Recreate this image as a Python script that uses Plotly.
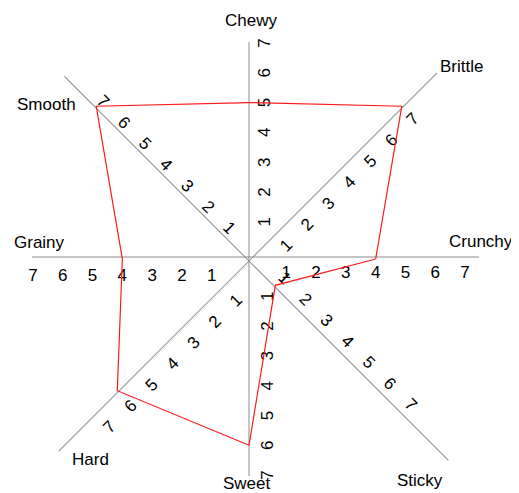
import math
import plotly.graph_objects as go

# ---------------- data ----------------
attributes = ["Crunchy", "Brittle", "Chewy", "Smooth", "Grainy", "Hard", "Sweet", "Sticky"]
scores = [4, 7, 5, 7, 4, 6, 6, 1]
tick_values = [1, 2, 3, 4, 5, 6, 7]
tick_labels = ["1", "2", "3", "4", "5", "6", "7"]

# ---------------- layout / style constants ----------------
PAGE_MARGIN = 8                     # default <body> margin of the html page
W, H = 519 - PAGE_MARGIN, 493 - PAGE_MARGIN
PX_PER_UNIT = 29.8
RADIAL_MIN = -0.25                  # small gap around the centre of the star
FONT = "Liberation Sans, Arial, Helvetica, sans-serif"
AXIS_COLOR = "#8c8c8c"
LINE_COLOR = "#ff1a1a"

# per-axis drawing: centre (window px), axis length (px), label side
AXIS_STYLE = {
    "Crunchy": dict(c=(249, 257), length=230, side="clockwise"),
    "Brittle": dict(c=(249, 261), length=266, side="clockwise"),
    "Chewy":   dict(c=(249, 259), length=217, side="clockwise"),
    "Smooth":  dict(c=(249, 261), length=261, side="clockwise"),
    "Grainy":  dict(c=(249, 257), length=217, side="counterclockwise"),
    "Hard":    dict(c=(249, 261), length=269, side="counterclockwise"),
    "Sweet":   dict(c=(249, 259), length=217, side="counterclockwise"),
    "Sticky":  dict(c=(249, 261), length=282, side="counterclockwise"),
}
# axis-name placement: angle offset (deg) from the axis and distance (px) from centre
NAME_STYLE = {
    "Crunchy": (4.3, 232.7), "Brittle": (-2.7, 286.7), "Chewy": (-0.5, 238.5),
    "Smooth": (7.6, 255.0), "Grainy": (-4.5, 210.6), "Hard": (6.7, 256.0),
    "Sweet": (-0.6, 224.5), "Sticky": (-7.4, 280.0),
}
MAIN_C = (249, 259)
MAIN_R = 230


def to_fig(p):
    return (p[0] - PAGE_MARGIN, p[1] - PAGE_MARGIN)


def sector_bbox(s0, s1):
    """Port of plotly.js computeSectorBBox."""
    arc = s1 - s0
    a0 = s0 % 360
    a1 = a0 + arc
    ax0, ay0 = math.cos(math.radians(a0)), math.sin(math.radians(a0))
    ax1, ay1 = math.cos(math.radians(a1)), math.sin(math.radians(a1))
    if (a0 <= 90 and a1 >= 90) or (a0 > 90 and a1 >= 450):
        y1 = 1
    elif ay0 <= 0 and ay1 <= 0:
        y1 = 0
    else:
        y1 = max(ay0, ay1)
    if (a0 <= 180 and a1 >= 180) or (a0 > 180 and a1 >= 540):
        x0 = -1
    elif ax0 >= 0 and ax1 >= 0:
        x0 = 0
    else:
        x0 = min(ax0, ax1)
    if (a0 <= 270 and a1 >= 270) or (a0 > 270 and a1 >= 630):
        y0 = -1
    elif ay0 >= 0 and ay1 >= 0:
        y0 = 0
    else:
        y0 = min(ay0, ay1)
    if a1 >= 360:
        x1 = 1
    elif ax0 <= 0 and ax1 <= 0:
        x1 = 0
    else:
        x1 = max(ax0, ax1)
    return x0, y0, x1, y1


def domain_for(centre, radius, sector):
    cx, cy = to_fig(centre)
    bx0, by0, bx1, by1 = sector_bbox(*sector)
    clamp = lambda v: min(1.0, max(0.0, v))
    x = [clamp((cx + radius * bx0) / W), clamp((cx + radius * bx1) / W)]
    y = [clamp(1 - (cy - radius * by0) / H), clamp(1 - (cy - radius * by1) / H)]
    return dict(x=x, y=y)


n = len(attributes)
angles = [i * 360.0 / n for i in range(n)]

fig = go.Figure()
layout_polars = {}

# one polar subplot per axis (narrow sector so each axis can have its own length)
for i, (name, theta) in enumerate(zip(attributes, angles)):
    st = AXIS_STYLE[name]
    key = "polar" if i == 0 else f"polar{i + 1}"
    sector = [theta - 0.5, theta + 0.5]
    layout_polars[key] = dict(
        domain=domain_for(st["c"], st["length"], sector),
        sector=sector,
        bgcolor="rgba(0,0,0,0)",
        angularaxis=dict(visible=False, rotation=0, direction="counterclockwise"),
        radialaxis=dict(
            range=[RADIAL_MIN, RADIAL_MIN + st["length"] / PX_PER_UNIT],
            angle=theta,
            side=st["side"],
            tickvals=tick_values,
            ticktext=tick_labels,
            showgrid=False,
            showline=True,
            linecolor=AXIS_COLOR,
            linewidth=1,
            ticks="",
            tickfont=dict(family=FONT, size=17, color="black"),
        ),
    )
    fig.add_trace(go.Scatterpolar(r=[], theta=[], subplot=key, mode="lines",
                                  showlegend=False, hoverinfo="skip"))

# main subplot: the profile polygon
main_key = f"polar{n + 1}"
layout_polars[main_key] = dict(
    domain=domain_for(MAIN_C, MAIN_R, [0, 360]),
    bgcolor="rgba(0,0,0,0)",
    angularaxis=dict(visible=False, rotation=0, direction="counterclockwise"),
    radialaxis=dict(visible=False, range=[RADIAL_MIN, RADIAL_MIN + MAIN_R / PX_PER_UNIT]),
)

fig.add_trace(go.Scatterpolar(
    r=scores + scores[:1],
    theta=angles + angles[:1],
    subplot=main_key,
    mode="lines",
    line=dict(color=LINE_COLOR, width=1.2),
    showlegend=False,
    hoverinfo="skip",
))

# axis names, placed around the centre of the star
annotations = []
mcx, mcy = to_fig(MAIN_C)
for name, theta in zip(attributes, angles):
    off, dist = NAME_STYLE[name]
    a = math.radians(theta + off)
    px = mcx + dist * math.cos(a)
    py = mcy - dist * math.sin(a)
    annotations.append(dict(
        x=px / W, y=1 - py / H, xref="paper", yref="paper",
        text=name, showarrow=False, xanchor="center", yanchor="middle",
        font=dict(family=FONT, size=17, color="black"),
    ))

fig.update_layout(
    width=W, height=H,
    margin=dict(l=0, r=0, t=0, b=0, pad=0),
    paper_bgcolor="white",
    plot_bgcolor="white",
    showlegend=False,
    annotations=annotations,
    **layout_polars,
)

fig.write_html("out.html")
